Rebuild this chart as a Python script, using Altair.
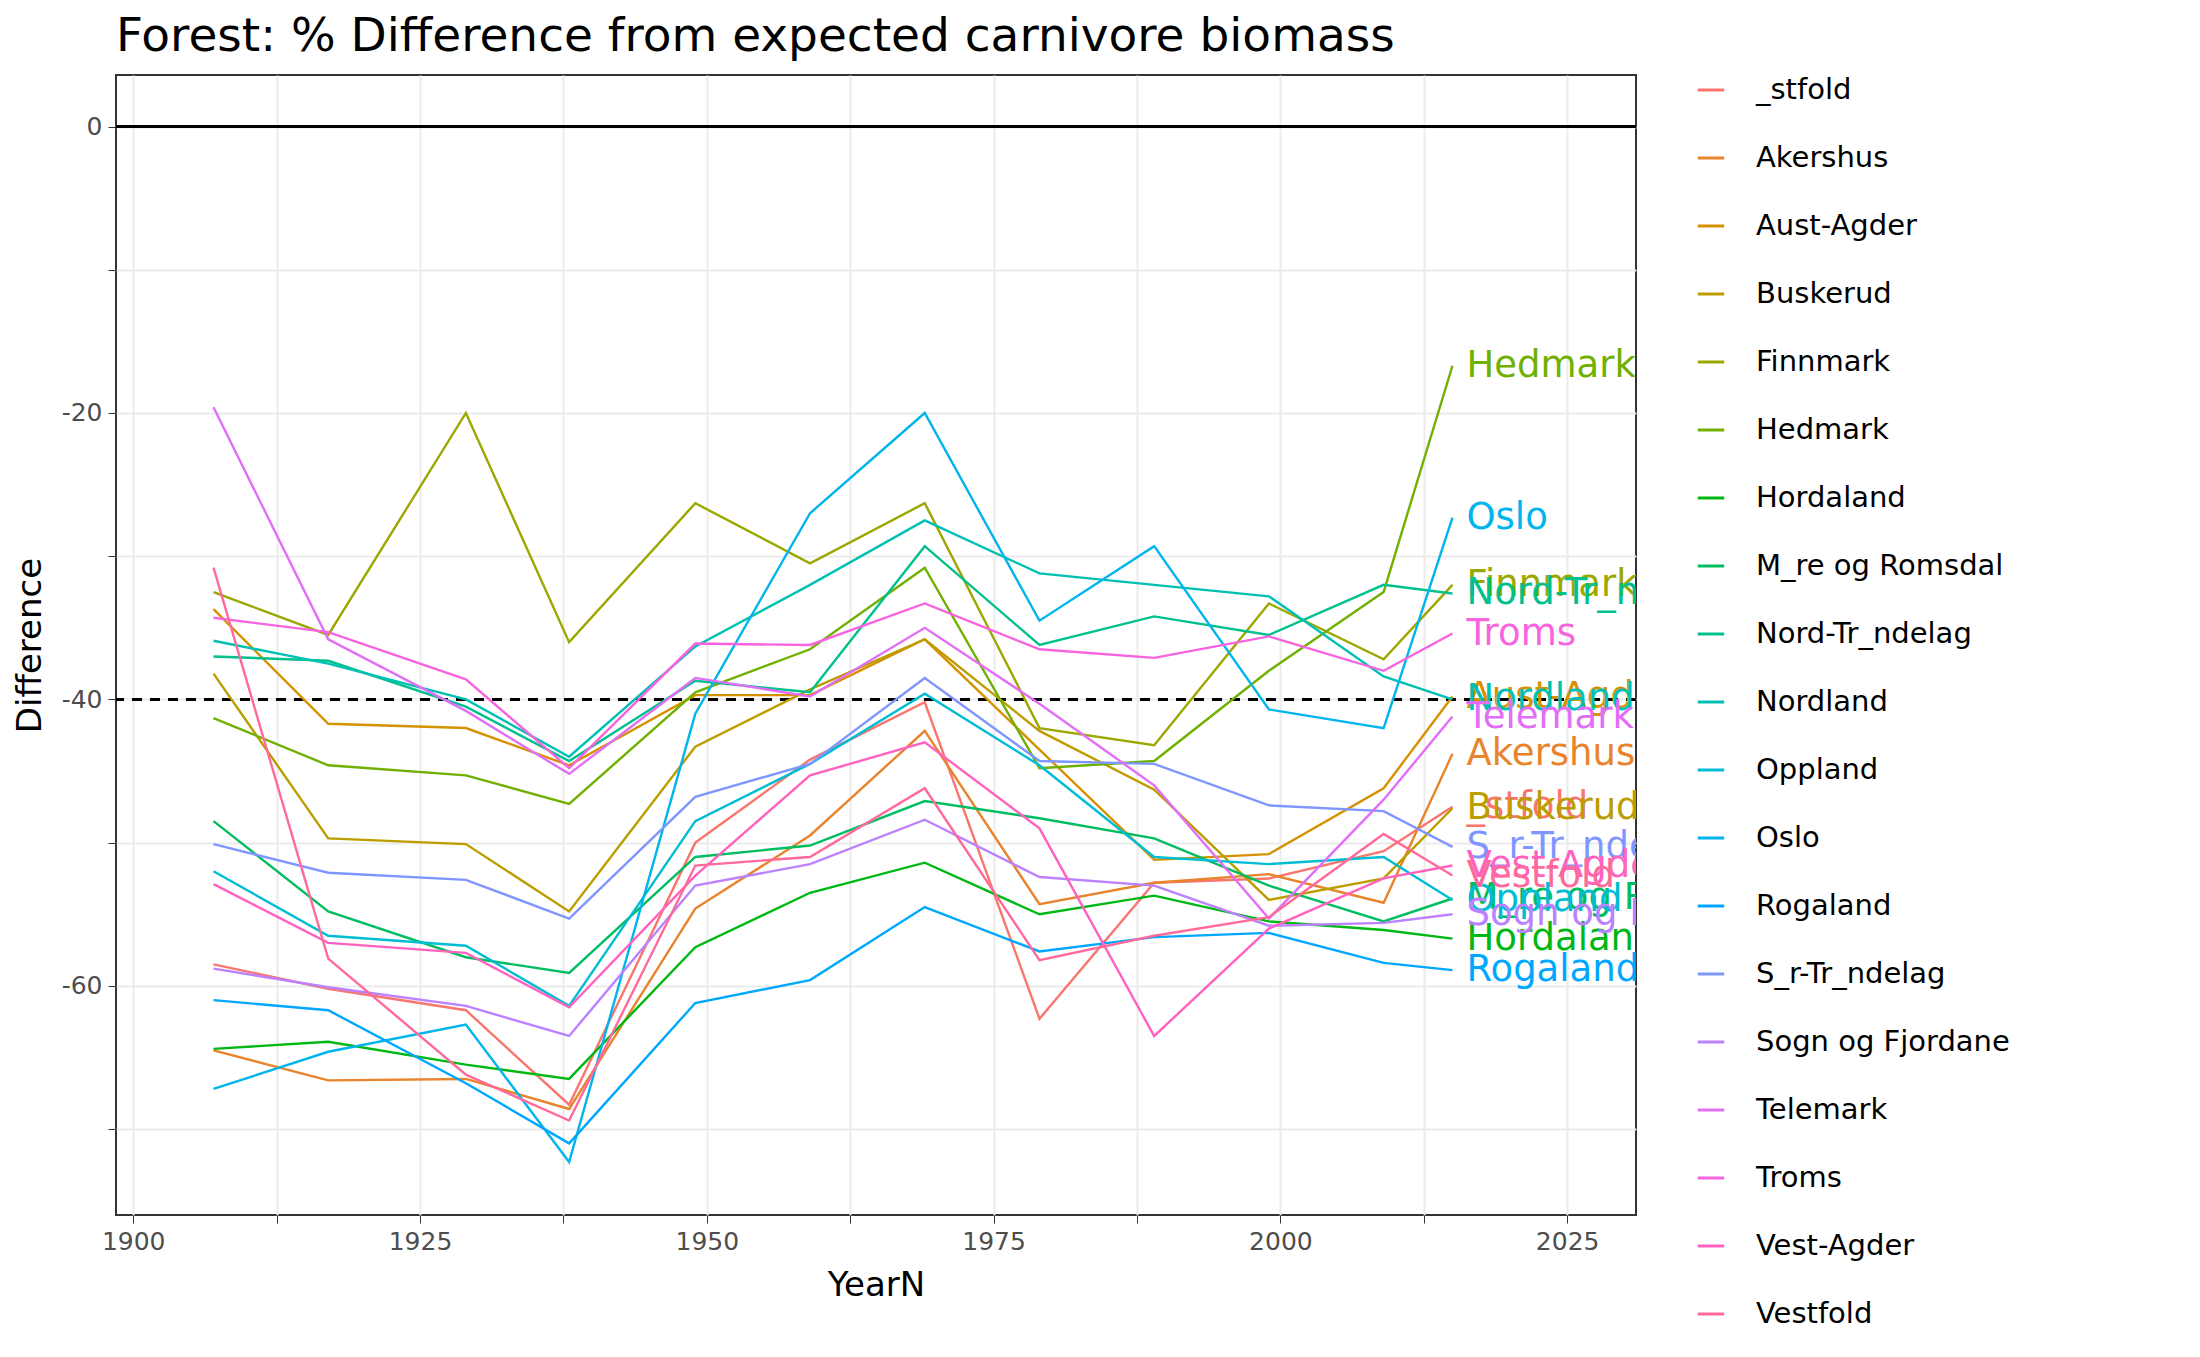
import math
import altair as alt
import pandas as pd

years = [1907, 1917, 1929, 1938, 1949, 1959, 1969, 1979, 1989, 1999, 2009, 2015]

counties = ["_stfold", "Akershus", "Aust-Agder", "Buskerud", "Finnmark", "Hedmark",
            "Hordaland", "M_re og Romsdal", "Nord-Tr_ndelag", "Nordland", "Oppland",
            "Oslo", "Rogaland", "S_r-Tr_ndelag", "Sogn og Fjordane", "Telemark",
            "Troms", "Vest-Agder", "Vestfold"]

values = {
    "_stfold": [-58.5, -60.2, -61.7, -68.3, -50.0, -44.2, -40.2, -62.3, -52.8, -52.5, -50.6, -47.5],
    "Akershus": [-64.5, -66.6, -66.5, -68.6, -54.6, -49.5, -42.2, -54.3, -52.8, -52.2, -54.2, -43.8],
    "Aust-Agder": [-33.7, -41.7, -42.0, -44.6, -39.7, -39.7, -35.8, -43.5, -51.2, -50.8, -46.2, -39.8],
    "Buskerud": [-38.2, -49.7, -50.1, -54.8, -43.3, -39.3, -35.8, -42.2, -46.3, -54.0, -52.5, -47.6],
    "Finnmark": [-32.5, -35.5, -20.0, -36.0, -26.3, -30.5, -26.3, -42.0, -43.2, -33.3, -37.2, -32.0],
    "Hedmark": [-41.3, -44.6, -45.3, -47.3, -39.5, -36.5, -30.8, -44.8, -44.3, -38.0, -32.5, -16.7],
    "Hordaland": [-64.4, -63.9, -65.5, -66.5, -57.3, -53.5, -51.4, -55.0, -53.7, -55.5, -56.1, -56.7],
    "M_re og Romsdal": [-48.5, -54.8, -58.0, -59.1, -51.0, -50.2, -47.1, -48.3, -49.7, -53.0, -55.5, -53.9],
    "Nord-Tr_ndelag": [-37.0, -37.3, -40.5, -44.3, -38.7, -39.5, -29.3, -36.2, -34.2, -35.5, -32.0, -32.6],
    "Nordland": [-35.9, -37.5, -40.0, -44.0, -36.3, -32.0, -27.5, -31.2, -32.0, -32.8, -38.4, -40.0],
    "Oppland": [-52.0, -56.5, -57.2, -61.4, -48.5, -44.5, -39.6, -44.6, -51.0, -51.5, -51.0, -54.0],
    "Oslo": [-67.2, -64.6, -62.7, -72.3, -41.0, -27.0, -20.0, -34.5, -29.3, -40.7, -42.0, -27.3],
    "Rogaland": [-61.0, -61.7, -66.8, -71.0, -61.2, -59.6, -54.5, -57.6, -56.6, -56.3, -58.4, -58.9],
    "S_r-Tr_ndelag": [-50.1, -52.1, -52.6, -55.3, -46.8, -44.5, -38.5, -44.3, -44.5, -47.4, -47.8, -50.3],
    "Sogn og Fjordane": [-58.8, -60.1, -61.4, -63.5, -53.0, -51.5, -48.4, -52.4, -53.0, -55.8, -55.6, -55.0],
    "Telemark": [-19.6, -35.8, -40.8, -45.2, -38.5, -39.8, -35.0, -40.3, -46.0, -55.3, -47.0, -41.2],
    "Troms": [-34.3, -35.3, -38.6, -44.8, -36.1, -36.2, -33.3, -36.5, -37.1, -35.6, -38.0, -35.4],
    "Vest-Agder": [-52.9, -57.0, -57.7, -61.5, -52.3, -45.3, -43.0, -49.0, -63.5, -56.0, -52.5, -51.6],
    "Vestfold": [-30.8, -58.1, -66.2, -69.4, -51.6, -51.0, -46.2, -58.2, -56.5, -55.2, -49.4, -52.3],
}


def hue_pal(n, l=65, c=100):
    # ggplot2 default hue palette (polar Luv -> sRGB)
    xn, yn, zn = 95.047, 100.0, 108.883
    un = 4 * xn / (xn + 15 * yn + 3 * zn)
    vn = 9 * yn / (xn + 15 * yn + 3 * zn)
    out = []
    for i in range(n):
        h = math.radians(15 + 360 * i / n)
        u, v = c * math.cos(h), c * math.sin(h)
        y = yn * ((l + 16) / 116) ** 3
        up = u / (13 * l) + un
        vp = v / (13 * l) + vn
        x = y * 9 * up / (4 * vp)
        z = y * (12 - 3 * up - 20 * vp) / (4 * vp)
        x, y, z = x / 100, y / 100, z / 100
        rgb = [3.2406 * x - 1.5372 * y - 0.4986 * z,
               -0.9689 * x + 1.8758 * y + 0.0415 * z,
               0.0557 * x - 0.2040 * y + 1.0570 * z]
        hexs = ""
        for ch in rgb:
            ch = 12.92 * ch if ch <= 0.0031308 else 1.055 * ch ** (1 / 2.4) - 0.055
            hexs += "%02X" % int(round(min(max(ch, 0), 1) * 255))
        out.append("#" + hexs)
    return out


colors = hue_pal(len(counties))

rows = [{"YearN": yr, "Difference": v, "County": c}
        for c in counties for yr, v in zip(years, values[c])]
df = pd.DataFrame(rows)
last = df[df["YearN"] == years[-1]]

font = "DejaVu Sans"
color = alt.Color("County:N", scale=alt.Scale(domain=counties, range=colors),
                  legend=alt.Legend(title=None, symbolType="stroke", symbolStrokeWidth=3,
                                    symbolSize=700, labelFontSize=29, rowPadding=38,
                                    labelFont=font, offset=60, labelLimit=500, labelOffset=30))

x = alt.X("YearN:Q", title="YearN", scale=alt.Scale(domain=[1898.5, 2031], nice=False),
          axis=alt.Axis(values=[1900, 1912.5, 1925, 1937.5, 1950, 1962.5, 1975, 1987.5, 2000, 2012.5, 2025],
                        labelExpr="datum.value % 25 == 0 ? format(datum.value, 'd') : ''"))
y = alt.Y("Difference:Q", title="Difference", scale=alt.Scale(domain=[-76, 3.6], nice=False),
          axis=alt.Axis(values=[-70, -60, -50, -40, -30, -20, -10, 0],
                        labelExpr="datum.value % 20 == 0 ? '' + datum.value : ''"))

lines = alt.Chart(df).mark_line(strokeWidth=2.4).encode(x=x, y=y, color=color)

zero = alt.Chart(pd.DataFrame({"y": [0]})).mark_rule(color="black", strokeWidth=3).encode(y="y:Q")
dash = alt.Chart(pd.DataFrame({"y": [-40]})).mark_rule(
    color="black", strokeWidth=3, strokeDash=[10, 8]).encode(y="y:Q")

labels = alt.Chart(last).mark_text(align="left", baseline="middle", dx=14, fontSize=37,
                                   font=font, clip=True).encode(
    x="YearN:Q", y="Difference:Q", text="County:N",
    color=alt.Color("County:N", scale=alt.Scale(domain=counties, range=colors), legend=None))

chart = alt.layer(zero, dash, lines, labels).properties(
    width=1520, height=1140,
    title=alt.Title("Forest: % Difference from expected carnivore biomass",
                    fontSize=47, font=font, fontWeight="normal", anchor="start",
                    frame="group", offset=14),
).configure_view(stroke="#333333", strokeWidth=2).configure_axis(
    labelFontSize=25, titleFontSize=34, labelFont=font, titleFont=font, titleFontWeight="normal",
    labelColor="#4D4D4D", gridColor="#EBEBEB", gridWidth=2, tickColor="#333333", tickSize=8,
    domain=False, labelPadding=6, titlePadding=14,
)

chart.save("out.html", embed_options={"renderer": "svg", "actions": False})
